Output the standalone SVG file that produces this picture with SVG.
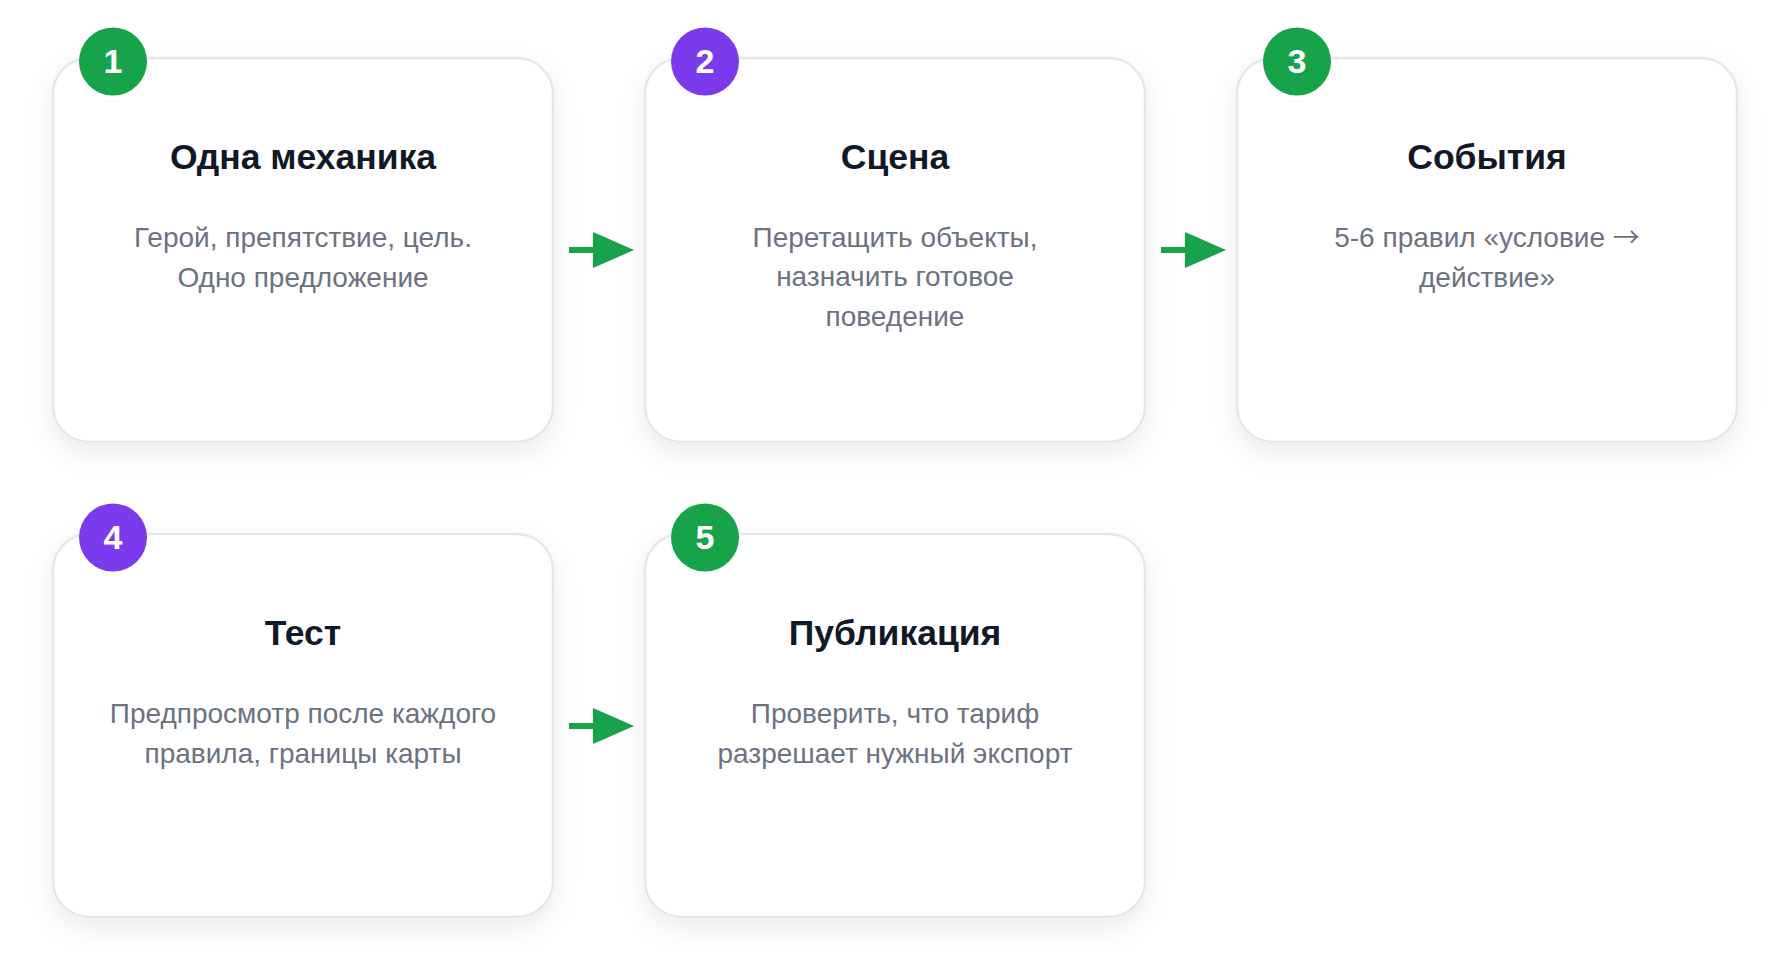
<svg xmlns="http://www.w3.org/2000/svg" width="1790" height="977" viewBox="0 0 1790 977">
  <defs>
    <filter id="shadow" x="-20%" y="-20%" width="140%" height="150%">
      <feDropShadow dx="0" dy="10" stdDeviation="13" flood-color="#0f172a" flood-opacity="0.08"/>
    </filter>
    <style>
      .card { fill: #ffffff; stroke: #e5e7eb; stroke-width: 2.5; filter: url(#shadow); }
      .badge-green { fill: #16a34a; }
      .badge-purple { fill: #7c3aed; }
      .num { font-family: "Liberation Sans", Arial, sans-serif; font-weight: bold; font-size: 34px; fill: #ffffff; text-anchor: middle; }
      .title { font-family: "Liberation Sans", Arial, sans-serif; font-weight: bold; font-size: 35.5px; fill: #111827; text-anchor: middle; }
      .desc { font-family: "Liberation Sans", Arial, sans-serif; font-size: 28px; fill: #6b7280; text-anchor: middle; }
      .arrowglyph { font-family: "Noto Sans CJK SC", "DejaVu Sans", sans-serif; font-size: 27px; }
      .shaft { stroke: #16a34a; stroke-width: 6; fill: none; }
      .head { fill: #16a34a; }
    </style>
  </defs>
  <rect x="0" y="0" width="1790" height="977" fill="#ffffff"/>

  <g id="connectors">
    <g id="arrow-1-2">
      <line class="shaft" x1="569" y1="250" x2="596" y2="250"/>
      <polygon class="head" points="593,232 634,250 593,268"/>
    </g>
    <g id="arrow-2-3">
      <line class="shaft" x1="1161" y1="250" x2="1188" y2="250"/>
      <polygon class="head" points="1185,232 1226,250 1185,268"/>
    </g>
    <g id="arrow-4-5">
      <line class="shaft" x1="569" y1="726" x2="596" y2="726"/>
      <polygon class="head" points="593,708 634,726 593,744"/>
    </g>
  </g>

  <g id="node-1">
    <rect class="card" x="53" y="58" width="500" height="384" rx="36" ry="36"/>
    <circle class="badge-green" cx="113" cy="61.5" r="34"/>
    <text class="num" x="113" y="73">1</text>
    <text class="title" x="303" y="169">Одна механика</text>
    <text class="desc" x="303" y="246.5">Герой, препятствие, цель.</text>
    <text class="desc" x="303" y="286.5">Одно предложение</text>
  </g>

  <g id="node-2">
    <rect class="card" x="645" y="58" width="500" height="384" rx="36" ry="36"/>
    <circle class="badge-purple" cx="705" cy="61.5" r="34"/>
    <text class="num" x="705" y="73">2</text>
    <text class="title" x="895" y="169">Сцена</text>
    <text class="desc" x="895" y="246.5">Перетащить объекты,</text>
    <text class="desc" x="895" y="286">назначить готовое</text>
    <text class="desc" x="895" y="325.5">поведение</text>
  </g>

  <g id="node-3">
    <rect class="card" x="1237" y="58" width="500" height="384" rx="36" ry="36"/>
    <circle class="badge-green" cx="1297" cy="61.5" r="34"/>
    <text class="num" x="1297" y="73">3</text>
    <text class="title" x="1487" y="169">События</text>
    <text class="desc" x="1487" y="246.5">5-6 правил «условие <tspan class="arrowglyph">→</tspan></text>
    <text class="desc" x="1487" y="286.5">действие»</text>
  </g>

  <g id="node-4">
    <rect class="card" x="53" y="534" width="500" height="383" rx="36" ry="36"/>
    <circle class="badge-purple" cx="113" cy="537.5" r="34"/>
    <text class="num" x="113" y="549">4</text>
    <text class="title" x="303" y="645">Тест</text>
    <text class="desc" x="303" y="722.5">Предпросмотр после каждого</text>
    <text class="desc" x="303" y="762.5">правила, границы карты</text>
  </g>

  <g id="node-5">
    <rect class="card" x="645" y="534" width="500" height="383" rx="36" ry="36"/>
    <circle class="badge-green" cx="705" cy="537.5" r="34"/>
    <text class="num" x="705" y="549">5</text>
    <text class="title" x="895" y="645">Публикация</text>
    <text class="desc" x="895" y="722.5">Проверить, что тариф</text>
    <text class="desc" x="895" y="762.5">разрешает нужный экспорт</text>
  </g>
</svg>
